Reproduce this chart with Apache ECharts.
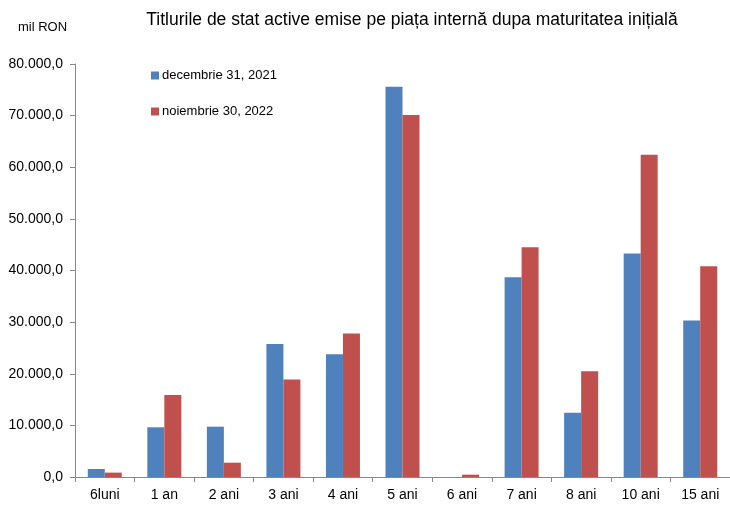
<!DOCTYPE html>
<html>
<head>
<meta charset="utf-8">
<script src="https://cdn.jsdelivr.net/npm/echarts@6/dist/echarts.min.js"></script>
<style>
  html, body { margin: 0; padding: 0; background: #fff; }
  #chart { width: 730px; height: 508px; }
</style>
</head>
<body>
<div id="chart"></div>
<script>
const categories = ['6luni', '1 an', '2 ani', '3 ani', '4 ani', '5 ani', '6 ani', '7 ani', '8 ani', '10 ani', '15 ani']
const dec2021 = [1550, 9630, 9750, 25760, 23800, 75600, 0, 38700, 12450, 43300, 30300]
const nov2022 = [850, 15900, 2770, 18900, 27800, 70100, 450, 44500, 20500, 62400, 40800]
const seriesNames = ['decembrie 31, 2021', 'noiembrie 30, 2022']
const colors = ['#4F81BD', '#C0504D']

// 80000 -> "80.000,0"
function fmt (v) {
  const s = Math.round(v).toString().replace(/\B(?=(\d{3})+(?!\d))/g, '.')
  return s + ',0'
}

const chart = echarts.init(document.getElementById('chart'))
const font = 'Liberation Sans, Arial, sans-serif'

chart.setOption({
  animation: false,
  textStyle: { fontFamily: font },
  title: [
    {
      text: 'Titlurile de stat active emise pe piața internă dupa maturitatea inițială',
      left: 407,
      textAlign: 'center',
      top: 6,
      textStyle: { fontSize: 17.5, fontWeight: 'normal', color: '#000', fontFamily: font }
    },
    {
      text: 'mil RON',
      left: 13,
      top: 16,
      textStyle: { fontSize: 13, fontWeight: 'normal', color: '#000', fontFamily: font }
    }
  ],
  legend: {
    orient: 'vertical',
    left: 146,
    top: 64,
    itemGap: 23,
    itemWidth: 8,
    itemHeight: 8,
    icon: 'rect',
    data: seriesNames,
    textStyle: { fontSize: 13, color: '#000', fontFamily: font, padding: [0, 0, 0, -2] }
  },
  grid: {
    left: 75,
    top: 64,
    bottom: 31,
    width: 660
  },
  xAxis: {
    type: 'category',
    data: categories,
    axisLine: { lineStyle: { color: '#888', width: 1 } },
    axisTick: { show: true, length: 5, lineStyle: { color: '#888' } },
    axisLabel: { fontSize: 14, color: '#000', margin: 11, fontFamily: font }
  },
  yAxis: {
    type: 'value',
    min: 0,
    max: 80000,
    interval: 10000,
    axisLine: { show: true, lineStyle: { color: '#888', width: 1 } },
    axisTick: { show: true, length: 5, lineStyle: { color: '#888' } },
    splitLine: { show: false },
    axisLabel: { fontSize: 14, color: '#000', margin: 12, formatter: fmt, fontFamily: font }
  },
  series: [
    {
      name: seriesNames[0],
      type: 'bar',
      data: dec2021,
      barWidth: 17,
      barGap: '0%',
      itemStyle: { color: colors[0] }
    },
    {
      name: seriesNames[1],
      type: 'bar',
      data: nov2022,
      barWidth: 17,
      itemStyle: { color: colors[1] }
    }
  ]
})
</script>
</body>
</html>
